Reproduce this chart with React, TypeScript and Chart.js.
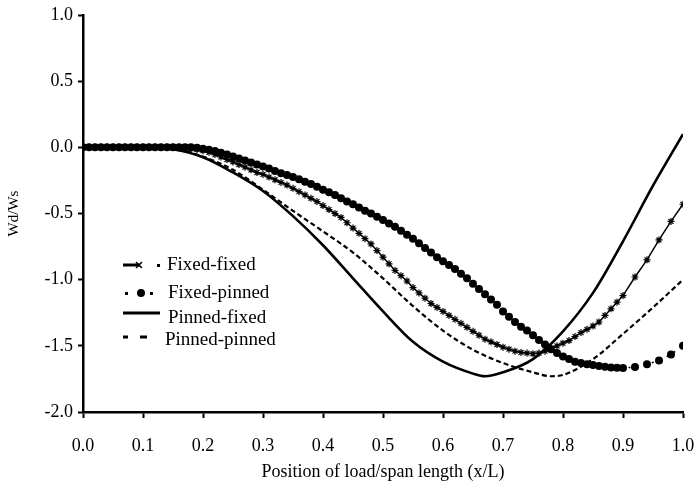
import React, { useEffect, useRef } from "react";
import { Chart, registerables } from "chart.js";

Chart.register(...registerables);

// ---- data ----
const xFine: number[] = [
  0.0, 0.01, 0.02, 0.03, 0.04, 0.05, 0.06, 0.07, 0.08, 0.09,
  0.1, 0.11, 0.12, 0.13, 0.14, 0.15, 0.16, 0.17, 0.18, 0.19,
  0.2, 0.21, 0.22, 0.23, 0.24, 0.25, 0.26, 0.27, 0.28, 0.29,
  0.3, 0.31, 0.32, 0.33, 0.34, 0.35, 0.36, 0.37, 0.38, 0.39,
  0.4, 0.41, 0.42, 0.43, 0.44, 0.45, 0.46, 0.47, 0.48, 0.49,
  0.5, 0.51, 0.52, 0.53, 0.54, 0.55, 0.56, 0.57, 0.58, 0.59,
  0.6, 0.61, 0.62, 0.63, 0.64, 0.65, 0.66, 0.67, 0.68, 0.69,
  0.7, 0.71, 0.72, 0.73, 0.74, 0.75, 0.76, 0.77, 0.78, 0.79,
  0.8, 0.81, 0.82, 0.83, 0.84, 0.85, 0.86, 0.87, 0.88, 0.89,
  0.9, 0.92, 0.94, 0.96, 0.98, 1.0,
];

const fixedFixed: number[] = [
  0, 0, 0, 0, 0, 0, 0, 0, 0, 0,
  0, 0, 0, 0, 0, 0, -0.003, -0.006, -0.011, -0.017,
  -0.025, -0.038, -0.055, -0.073, -0.092, -0.11, -0.13, -0.15, -0.17, -0.19,
  -0.205, -0.225, -0.245, -0.265, -0.285, -0.31, -0.335, -0.36, -0.385, -0.41,
  -0.44, -0.47, -0.5, -0.53, -0.57, -0.61, -0.65, -0.69, -0.73, -0.78,
  -0.83, -0.88, -0.93, -0.97, -1.01, -1.06, -1.1, -1.14, -1.18, -1.21,
  -1.24, -1.27, -1.3, -1.33, -1.36, -1.39, -1.42, -1.45, -1.47, -1.49,
  -1.51, -1.525, -1.54, -1.55, -1.555, -1.56, -1.555, -1.54, -1.52, -1.5,
  -1.48, -1.46, -1.43, -1.4, -1.375, -1.35, -1.32, -1.27, -1.22, -1.17,
  -1.12, -0.98, -0.85, -0.7, -0.56, -0.43,
];

const fixedPinned: number[] = [
  0, 0, 0, 0, 0, 0, 0, 0, 0, 0,
  0, 0, 0, 0, 0, 0, 0, 0, 0, -0.004,
  -0.01, -0.018, -0.028, -0.041, -0.055, -0.07, -0.085, -0.1, -0.115, -0.13,
  -0.145, -0.16, -0.178, -0.195, -0.21, -0.225, -0.242, -0.26, -0.278, -0.298,
  -0.32, -0.34, -0.36, -0.385, -0.41, -0.43, -0.455, -0.48, -0.5, -0.525,
  -0.55, -0.575, -0.6, -0.63, -0.66, -0.69, -0.725, -0.76, -0.795, -0.83,
  -0.86, -0.89, -0.92, -0.955, -0.99, -1.03, -1.07, -1.11, -1.15, -1.19,
  -1.24, -1.28, -1.32, -1.355, -1.385, -1.42, -1.455, -1.49, -1.525, -1.555,
  -1.58, -1.6, -1.62, -1.63, -1.64, -1.645, -1.652, -1.658, -1.663, -1.666,
  -1.668, -1.66, -1.64, -1.61, -1.565, -1.5,
];

const xPinnedFixed: number[] = [
  0, 0.05, 0.1, 0.15, 0.2, 0.25, 0.3, 0.35, 0.4, 0.45, 0.5, 0.55, 0.6, 0.65,
  0.67, 0.7, 0.75, 0.8, 0.85, 0.9, 0.95, 1.0,
];
const pinnedFixed: number[] = [
  0, 0, 0, -0.015, -0.075, -0.19, -0.33, -0.52, -0.74, -0.99, -1.24, -1.47,
  -1.62, -1.71, -1.73, -1.7, -1.6, -1.39, -1.1, -0.71, -0.29, 0.1,
];

const xPinnedPinned: number[] = [
  0, 0.05, 0.1, 0.15, 0.2, 0.25, 0.3, 0.35, 0.4, 0.45, 0.5, 0.55, 0.6, 0.65,
  0.7, 0.75, 0.78, 0.8, 0.85, 0.9, 0.95, 1.0,
];
const pinnedPinned: number[] = [
  0, 0, 0, -0.01, -0.07, -0.17, -0.32, -0.48, -0.635, -0.795, -0.99, -1.2,
  -1.385, -1.53, -1.63, -1.7, -1.73, -1.72, -1.6, -1.41, -1.21, -1.0,
];

const seriesNames: string[] = ["Fixed-fixed", "Fixed-pinned", "Pinned-fixed", "Pinned-pinned"];
const xTitle = "Position of load/span length (x/L)";
const yTitle = "Wd/Ws";

const FONT = '"Liberation Serif", "Times New Roman", serif';

function pts(xs: number[], ys: number[]) {
  return xs.map((x, i) => ({ x, y: ys[i] }));
}

const legendPlugin = {
  id: "customLegend",
  afterDraw(chart: any) {
    const ctx = chart.ctx as CanvasRenderingContext2D;
    ctx.save();
    ctx.fillStyle = "#000";
    ctx.strokeStyle = "#000";
    ctx.font = `19px ${FONT}`;
    ctx.textBaseline = "middle";
    ctx.textAlign = "left";

    // Fixed-fixed
    ctx.lineWidth = 3;
    ctx.beginPath();
    ctx.moveTo(123, 265);
    ctx.lineTo(140, 265);
    ctx.stroke();
    ctx.lineWidth = 1.5;
    ctx.beginPath();
    ctx.moveTo(136, 262);
    ctx.lineTo(142, 268);
    ctx.moveTo(142, 262);
    ctx.lineTo(136, 268);
    ctx.stroke();
    ctx.fillRect(157, 264, 3, 3);
    ctx.fillText(seriesNames[0], 167, 265);

    // Fixed-pinned
    ctx.fillRect(125, 292, 3, 3);
    ctx.beginPath();
    ctx.arc(141, 293, 4, 0, Math.PI * 2);
    ctx.fill();
    ctx.fillRect(150, 292, 3, 3);
    ctx.fillText(seriesNames[1], 168, 293);

    // Pinned-fixed
    ctx.lineWidth = 3;
    ctx.beginPath();
    ctx.moveTo(123, 313);
    ctx.lineTo(160, 313);
    ctx.stroke();
    ctx.fillText(seriesNames[2], 168, 318);

    // Pinned-pinned
    ctx.beginPath();
    ctx.moveTo(123, 337);
    ctx.lineTo(128, 337);
    ctx.moveTo(140, 337);
    ctx.lineTo(147, 337);
    ctx.stroke();
    ctx.fillText(seriesNames[3], 165, 340);
    ctx.restore();
  },
};

export default function App() {
  const ref = useRef<HTMLCanvasElement | null>(null);

  useEffect(() => {
    document.body.style.margin = "0";
    const canvas = ref.current!;
    const chart = new Chart(canvas, {
      type: "line",
      data: {
        datasets: [
          {
            label: seriesNames[0],
            data: pts(xFine, fixedFixed),
            borderColor: "#000",
            backgroundColor: "#000",
            borderWidth: 1.5,
            pointStyle: "star",
            pointRadius: 3.5,
            pointBorderWidth: 1.2,
            pointBorderColor: "#000",
            tension: 0,
          },
          {
            label: seriesNames[1],
            data: pts(xFine, fixedPinned),
            borderColor: "#000",
            backgroundColor: "#000",
            borderWidth: 1.5,
            borderDash: [2, 6],
            pointStyle: "circle",
            pointRadius: 4,
            pointBorderWidth: 0,
            pointBackgroundColor: "#000",
            tension: 0,
          },
          {
            label: seriesNames[2],
            data: pts(xPinnedFixed, pinnedFixed),
            borderColor: "#000",
            borderWidth: 2.6,
            pointRadius: 0,
            cubicInterpolationMode: "monotone",
          },
          {
            label: seriesNames[3],
            data: pts(xPinnedPinned, pinnedPinned),
            borderColor: "#000",
            borderWidth: 2.2,
            borderDash: [5, 3],
            pointRadius: 0,
            cubicInterpolationMode: "monotone",
          },
        ],
      },
      options: {
        animation: false,
        responsive: false,
        events: [],
        layout: { padding: { left: 0, top: 15, right: 11, bottom: 0 } },
        plugins: {
          legend: { display: false },
          tooltip: { enabled: false },
        },
        scales: {
          x: {
            type: "linear",
            min: 0,
            max: 1,
            afterFit: (s: any) => {
              s.height = 77;
              s.paddingRight = 0;
              s.paddingLeft = 0;
            },
            ticks: {
              stepSize: 0.1,
              color: "#000",
              padding: 17,
              font: { family: FONT, size: 18 },
              callback: (v: any) => Number(v).toFixed(1),
              maxRotation: 0,
            },
            grid: {
              drawOnChartArea: false,
              drawTicks: true,
              tickLength: 6,
              tickWidth: 2,
              tickColor: "#000",
            },
            border: { display: true, color: "#000", width: 2.5 },
            title: {
              display: true,
              text: xTitle,
              color: "#000",
              font: { family: FONT, size: 18 },
              padding: { top: 0, bottom: 6 },
            },
          },
          y: {
            type: "linear",
            min: -2,
            max: 1,
            afterFit: (s: any) => {
              s.width = 83;
              s.paddingTop = 0;
              s.paddingBottom = 0;
            },
            ticks: {
              stepSize: 0.5,
              color: "#000",
              padding: 5,
              font: { family: FONT, size: 18 },
              callback: (v: any) => Number(v).toFixed(1),
            },
            grid: {
              drawOnChartArea: false,
              drawTicks: true,
              tickLength: 5,
              tickWidth: 2,
              tickColor: "#000",
            },
            border: { display: true, color: "#000", width: 2.5 },
            title: {
              display: true,
              text: yTitle,
              color: "#000",
              font: { family: FONT, size: 15 },
              padding: { top: 5, bottom: 0 },
            },
          },
        },
      },
      plugins: [legendPlugin],
    } as any);
    return () => chart.destroy();
  }, []);

  return (
    <div style={{ position: "absolute", left: 0, top: 0, width: 694, height: 489, background: "#fff" }}>
      <canvas ref={ref} width={694} height={489} />
    </div>
  );
}
